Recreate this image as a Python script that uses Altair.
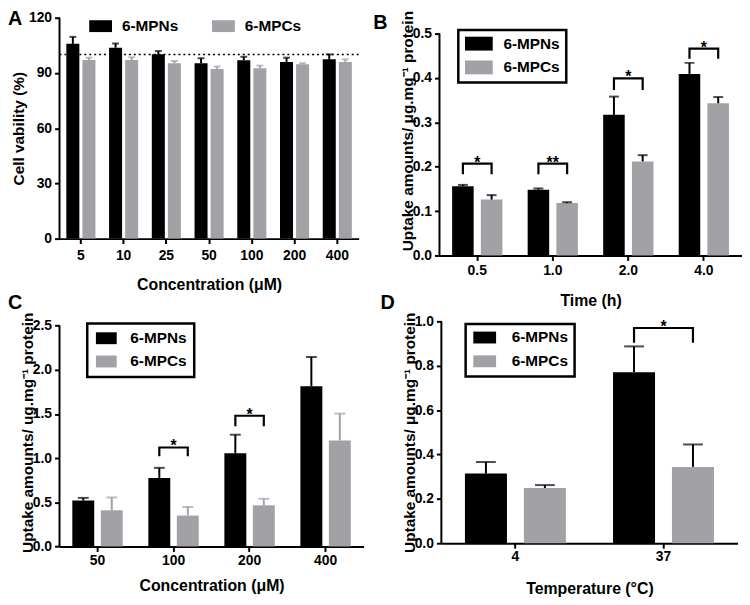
import altair as alt
import pandas as pd

FONT = "Liberation Sans"
BLACK = "#000000"
GRAY = "#a2a2a6"
SERIES = ["6-MPNs", "6-MPCs"]

# ---------------- Panel A: cell viability ----------------
a_conc = ["5", "10", "25", "50", "100", "200", "400"]
a_mpn = [105.8, 103.7, 100.1, 95.3, 96.9, 96.0, 97.4]
a_mpn_err = [3.8, 2.3, 1.8, 2.7, 1.9, 2.3, 2.7]
a_mpc = [97.0, 97.0, 95.3, 92.2, 92.6, 94.7, 96.0]
a_mpc_err = [1.3, 1.5, 1.2, 1.3, 1.4, 0.6, 1.4]
a_ref = [100]

# ---------------- Panel B: uptake vs time ----------------
b_time = ["0.5", "1.0", "2.0", "4.0"]
b_mpn = [0.156, 0.148, 0.317, 0.409]
b_mpn_err = [0.003, 0.003, 0.041, 0.025]
b_mpc = [0.126, 0.118, 0.212, 0.343]
b_mpc_err = [0.010, 0.002, 0.014, 0.014]
b_sig_cat = ["0.5", "1.0", "2.0", "4.0"]
b_sig_top = [0.207, 0.207, 0.399, 0.466]
b_sig_bot = [0.183, 0.183, 0.373, 0.443]
b_sig_lab = ["*", "**", "*", "*"]

# ---------------- Panel C: uptake vs concentration ----------------
c_conc = ["50", "100", "200", "400"]
c_mpn = [0.52, 0.776, 1.056, 1.814]
c_mpn_err = [0.03, 0.114, 0.209, 0.331]
c_mpc = [0.41, 0.35, 0.466, 1.20]
c_mpc_err = [0.145, 0.098, 0.074, 0.304]
c_sig_cat = ["100", "200"]
c_sig_top = [1.12, 1.48]
c_sig_bot = [1.02, 1.36]
c_sig_lab = ["*", "*"]

# ---------------- Panel D: uptake vs temperature ----------------
d_temp = ["4", "37"]
d_mpn = [0.314, 0.771]
d_mpn_err = [0.052, 0.116]
d_mpc = [0.249, 0.344]
d_mpc_err = [0.013, 0.101]
d_sig_cat = ["37"]
d_sig_top = [0.97]
d_sig_bot = [0.903]
d_sig_lab = ["*"]


def bars_df(cats, mpn, mpn_err, mpc, mpc_err):
    rows = []
    for c, v, e in zip(cats, mpn, mpn_err):
        rows.append({"cat": c, "series": SERIES[0], "val": v, "hi": v + e})
    for c, v, e in zip(cats, mpc, mpc_err):
        rows.append({"cat": c, "series": SERIES[1], "val": v, "hi": v + e})
    return pd.DataFrame(rows)


def bracket_df(cats, tops, bots):
    rows = []
    for c, t, b in zip(cats, tops, bots):
        rows += [
            {"cat": c, "series": SERIES[0], "y": b, "o": 0},
            {"cat": c, "series": SERIES[0], "y": t, "o": 1},
            {"cat": c, "series": SERIES[1], "y": t, "o": 2},
            {"cat": c, "series": SERIES[1], "y": b, "o": 3},
        ]
    return pd.DataFrame(rows)


def panel(letter, lx, ly, cats, df, w, h, ext, ymax, yvals, yfmt, ytitle, xtitle,
          xo_pi, xo_po, cap, err_gray, legend, xlabpad, xtitlepad, ytitlepad,
          titleY=None, brackets=None, ref=None):
    # the plot area is 'ext' px taller than the drawn axis, so that panels
    # sharing a row can start their axes at different heights
    htot = h + ext
    ytop = ymax * htot / h
    xscale = alt.Scale(domain=cats, paddingInner=0, paddingOuter=0)
    xaxis = alt.Axis(title=xtitle, labelAngle=0, labelPadding=xlabpad,
                     titlePadding=xtitlepad)
    x = alt.X("cat:N", sort=cats, scale=xscale, axis=xaxis)
    xo = alt.XOffset("series:N", sort=SERIES,
                     scale=alt.Scale(domain=SERIES, paddingInner=xo_pi, paddingOuter=xo_po))
    yscale = alt.Scale(domain=[0, ytop], nice=False, zero=True)
    yaxis_kw = dict(title=ytitle, values=yvals, format=yfmt, labelPadding=3,
                    titlePadding=ytitlepad, domain=False)
    if titleY is not None:
        yaxis_kw["titleY"] = titleY
    y = alt.Y("val:Q", scale=yscale, axis=alt.Axis(**yaxis_kw))

    base = alt.Chart(df)
    bars = base.mark_bar().encode(
        x=x, xOffset=xo, y=y,
        color=alt.Color("series:N", sort=SERIES,
                        scale=alt.Scale(domain=SERIES, range=[BLACK, GRAY]),
                        legend=legend),
    )
    ecol = alt.condition(f"datum.series == '{SERIES[0]}'", alt.value(BLACK),
                         alt.value(GRAY if err_gray else BLACK))
    stems = base.mark_rule(strokeWidth=2).encode(
        x=x, xOffset=xo, y=alt.Y("val:Q", scale=yscale), y2="hi:Q", color=ecol)
    caps = base.mark_tick(thickness=2, size=cap).encode(
        x=x, xOffset=xo, y=alt.Y("hi:Q", scale=yscale), color=ecol)

    # y axis line, from 0 to the top tick value
    axis_line = alt.Chart(pd.DataFrame({"y0": [0], "y1": [ymax]})).mark_rule(
        color=BLACK, strokeWidth=2
    ).encode(x=alt.value(0), y=alt.Y("y0:Q", scale=yscale), y2="y1:Q")

    layers = [bars, stems, caps, axis_line]

    if ref is not None:
        layers.append(
            alt.Chart(pd.DataFrame({"r": ref})).mark_rule(
                color=BLACK, strokeDash=[2, 3], strokeWidth=1.6
            ).encode(y=alt.Y("r:Q", scale=yscale))
        )

    if brackets is not None:
        bcats, btops, bbots, blabs = brackets
        bdf = bracket_df(bcats, btops, bbots)
        layers.append(
            alt.Chart(bdf).mark_line(color=BLACK, strokeWidth=2.2, strokeCap="butt").encode(
                x=x, xOffset=xo, y=alt.Y("y:Q", scale=yscale),
                order="o:Q", detail="cat:N")
        )
        sdf = pd.DataFrame({"cat": bcats, "y": btops, "lab": blabs})
        layers.append(
            alt.Chart(sdf).mark_text(fontSize=16, fontWeight="bold", font=FONT,
                                     baseline="alphabetic", dy=4, color=BLACK).encode(
                x=x, y=alt.Y("y:Q", scale=yscale), text="lab:N")
        )

    layers.append(
        alt.Chart(pd.DataFrame({"t": [letter]})).mark_text(
            fontSize=20, fontWeight="bold", font=FONT, align="left",
            baseline="alphabetic", color=BLACK
        ).encode(text="t:N", x=alt.value(lx), y=alt.value(ly))
    )
    return alt.layer(*layers).properties(width=w, height=htot).resolve_scale(color="independent")


legend_common = dict(title=None, orient="none", labelFont=FONT, labelFontSize=15.5,
                     labelFontWeight="bold", labelColor=BLACK, symbolStrokeWidth=0)


def box_legend(lx, ly, sw, sh, gap, pad, rowpad):
    # rectangle sw x sh, its left edge at the entry origin
    r = 2 * sw / sh - 1
    return alt.Legend(
        direction="vertical", legendX=lx, legendY=ly, padding=pad,
        strokeColor=BLACK, symbolType=f"M-1,-1H{r:.3f}V1H-1Z",
        symbolSize=sh * sh, labelOffset=sw + gap - sh,
        rowPadding=rowpad, **legend_common)


legA = alt.Legend(direction="horizontal", legendX=30, legendY=-3, padding=0,
                  symbolType="M-1,-0.52H1V0.52H-1Z", symbolSize=529, labelOffset=10,
                  columnPadding=34, **legend_common)
legB = box_legend(19, 12.4, 28, 14, 10, 6, 7)
legC = box_legend(28, 2.3, 21, 12, 12, 7, 6.5)
legD = box_legend(24.5, 2.6, 23, 12, 14, 6, 7)

pA = panel("A", -52, 7.8, a_conc, bars_df(a_conc, a_mpn, a_mpn_err, a_mpc, a_mpc_err),
           302, 223, 0, 120, [0, 30, 60, 90, 120], "d", "Cell vability (%)",
           "Concentration (μM)", 0.19, 0.425, 7, True, legA, 5.5, 14, 2,
           ref=a_ref)
pB = panel("B", -66.8, 11, b_time, bars_df(b_time, b_mpn, b_mpn_err, b_mpc, b_mpc_err),
           305, 224, 16, 0.5, [0, 0.1, 0.2, 0.3, 0.4, 0.5], ".1f",
           "Uptake amounts/ μg.mg⁻¹ protein", "Time (h)", 0.25, 0.44, 10, False,
           legB, 3, 16, -3, titleY=114,
           brackets=(b_sig_cat, b_sig_top, b_sig_bot, b_sig_lab))
pC = panel("C", -52, -12.4, c_conc, bars_df(c_conc, c_mpn, c_mpn_err, c_mpc, c_mpc_err),
           307, 223, 4.3, 2.5, [0, 0.5, 1.0, 1.5, 2.0, 2.5], ".1f",
           "Uptake amounts/ ug.mg⁻¹ protein", "Concentration (μM)", 0.23, 0.45, 11,
           True, legC, 2.5, 10, -3, titleY=112,
           brackets=(c_sig_cat, c_sig_top, c_sig_bot, c_sig_lab))
pD = panel("D", -61.5, -12.4, d_temp, bars_df(d_temp, d_mpn, d_mpn_err, d_mpc, d_mpc_err),
           299, 224, 0, 1.0, [0, 0.2, 0.4, 0.6, 0.8, 1.0], ".1f",
           "Uptake amounts/ μg.mg⁻¹ protein", "Temperature (°C)", 0.287, 0.4, 20,
           False, legD, 1, 18, -3,
           brackets=(d_sig_cat, d_sig_top, d_sig_bot, d_sig_lab))

row1 = alt.hconcat(pA, pB, spacing=13.6).resolve_scale(color="independent", xOffset="independent")
row2 = alt.hconcat(pC, pD, spacing=16.5).resolve_scale(color="independent", xOffset="independent")

chart = alt.vconcat(row1, row2, spacing=-16.5).resolve_scale(
    color="independent", xOffset="independent"
).properties(
    padding={"left": 0, "top": -2, "right": 0, "bottom": 0}
).configure(
    font=FONT
).configure_view(
    stroke=None
).configure_axis(
    domainColor=BLACK, domainWidth=2, tickColor=BLACK, tickWidth=2, tickSize=5,
    labelColor=BLACK, labelFont=FONT, labelFontSize=14, labelFontWeight="bold",
    titleColor=BLACK, titleFont=FONT, titleFontSize=16, titleFontWeight="bold",
    grid=False,
).configure_axisY(
    titleFontSize=15.5
).configure_legend(
    strokeWidth=2.5
)

chart.save("out.html", embed_options={"renderer": "svg", "actions": False})
